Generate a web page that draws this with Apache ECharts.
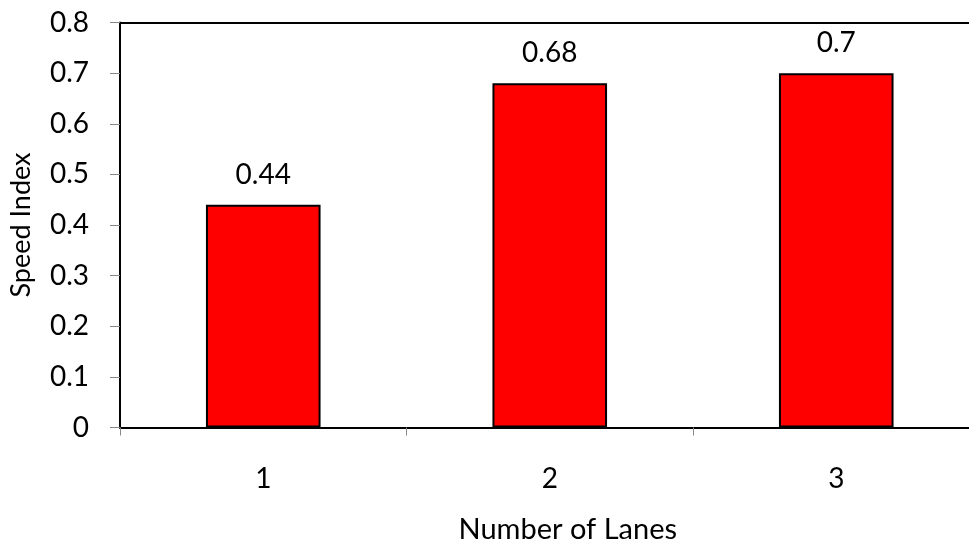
<!DOCTYPE html>
<html><head><meta charset="utf-8">
<script src="https://cdn.jsdelivr.net/npm/echarts@6/dist/echarts.min.js"></script>
<style>html,body{margin:0;padding:0;background:#fff}#c{width:969px;height:547px}</style>
</head><body><div id="c"></div>
<script>
const categories = ['1', '2', '3'];
const speedIndex = [0.44, 0.68, 0.7];
const yTicks = { min: 0, max: 0.8, interval: 0.1 };

const chart = echarts.init(document.getElementById('c'), null, { renderer: 'canvas' });
const font = 'Lato, "Open Sans", sans-serif';
chart.setOption({
  animation: false,
  backgroundColor: '#fff',
  grid: { left: 120, top: 22.5, width: 859.5, height: 405, containLabel: false, outerBoundsMode: 'none', show: false },
  xAxis: [{
    type: 'category', data: categories,
    name: 'Number of Lanes', nameLocation: 'middle', nameGap: 88,
    nameTextStyle: { fontFamily: font, fontSize: 29, color: '#000', padding: [0, 0, 0, 36] },
    axisLine: { lineStyle: { color: '#000', width: 2 } },
    axisTick: { show: true, length: 8, alignWithLabel: false, lineStyle: { color: '#888', width: 1 } },
    axisLabel: { margin: 37, fontFamily: font, fontSize: 28, color: '#000' },
    splitLine: { show: false }
  }, {
    type: 'category', data: categories, position: 'top',
    axisLine: { show: true, lineStyle: { color: '#000', width: 2 } },
    axisTick: { show: false }, axisLabel: { show: false }, splitLine: { show: false }
  }],
  yAxis: {
    type: 'value', min: yTicks.min, max: yTicks.max, interval: yTicks.interval,
    name: 'Speed Index', nameLocation: 'middle', nameGap: 85, nameRotate: 90,
    nameTextStyle: { fontFamily: font, fontSize: 27, color: '#000' },
    axisLine: { show: true, lineStyle: { color: '#000', width: 2 } },
    axisTick: { show: true, length: 10, lineStyle: { color: '#888', width: 1 } },
    axisLabel: { margin: 31, fontFamily: font, fontSize: 28, color: '#000', formatter: v => String(Math.round(v * 10) / 10) },
    splitLine: { show: false }
  },
  series: [{
    type: 'bar', data: speedIndex, barWidth: '40%', xAxisIndex: 0,
    itemStyle: { color: '#ff0000', borderColor: '#000', borderWidth: 2 },
    label: { show: true, position: 'top', distance: 16, fontFamily: font, fontSize: 28, color: '#000' }
  }]
});
</script></body></html>
